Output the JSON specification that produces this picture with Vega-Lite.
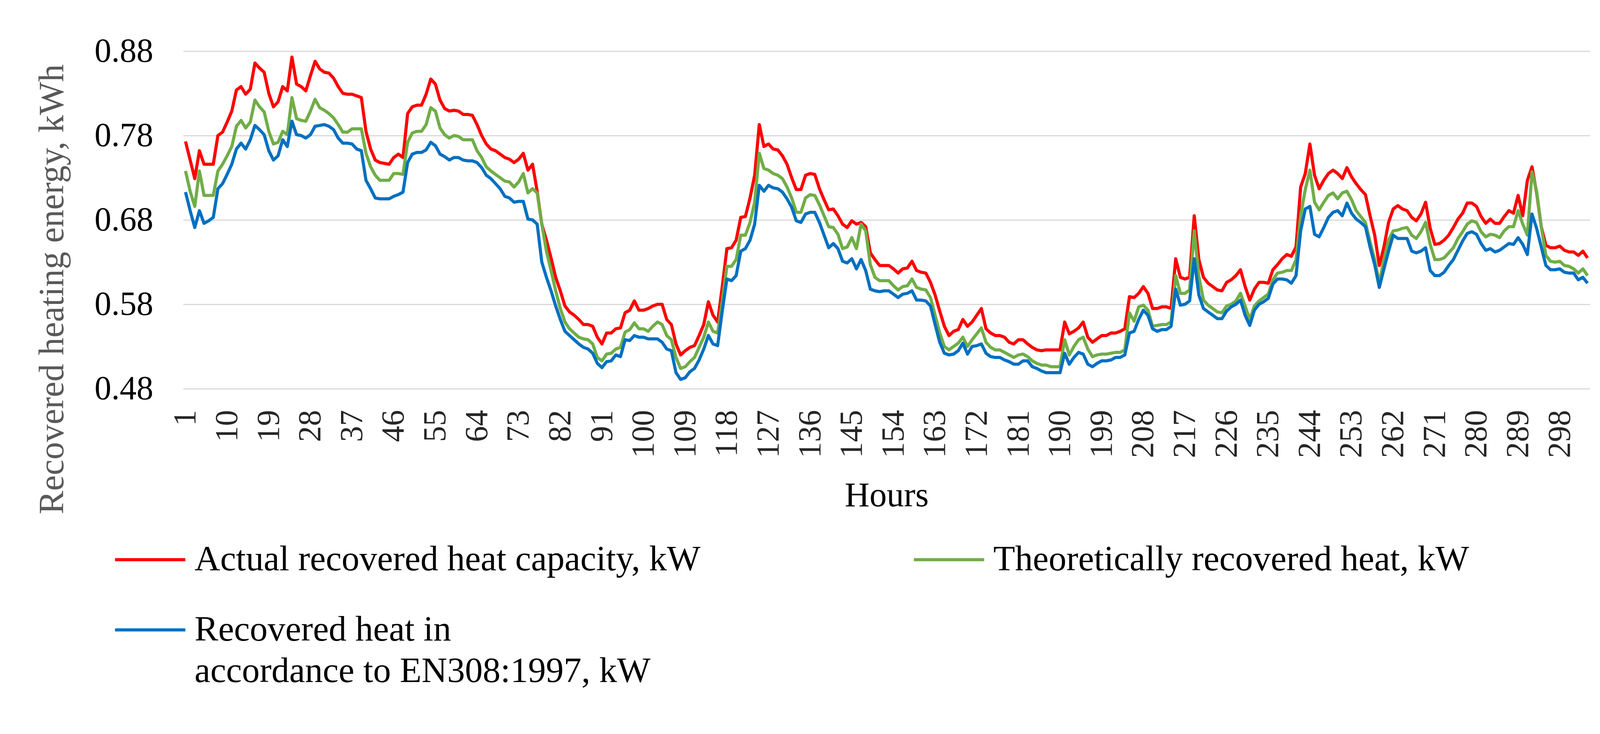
{
  "$schema": "https://vega.github.io/schema/vega-lite/v6.json",
  "width": 3601,
  "height": 864,
  "autosize": "none",
  "padding": {"left": 469, "top": 131, "right": 142, "bottom": 884},
  "background": "white",
  "config": {
    "view": {"stroke": null},
    "font": "Liberation Serif",
    "style": {"guide-label": {"lineHeight": 106}}
  },
  "data": {
    "values": [
      {"h":1,"s1":0.773,"s2":0.738,"s3":0.713},{"h":2,"s1":0.751,"s2":0.714,"s3":0.691},{"h":3,"s1":0.729,"s2":0.696,"s3":0.671},{"h":4,"s1":0.762,"s2":0.738,"s3":0.691},
      {"h":5,"s1":0.746,"s2":0.709,"s3":0.676},{"h":6,"s1":0.746,"s2":0.709,"s3":0.679},{"h":7,"s1":0.746,"s2":0.709,"s3":0.683},{"h":8,"s1":0.780,"s2":0.738,"s3":0.717},
      {"h":9,"s1":0.784,"s2":0.746,"s3":0.723},{"h":10,"s1":0.796,"s2":0.756,"s3":0.734},{"h":11,"s1":0.809,"s2":0.767,"s3":0.746},{"h":12,"s1":0.834,"s2":0.791,"s3":0.764},
      {"h":13,"s1":0.838,"s2":0.798,"s3":0.771},{"h":14,"s1":0.829,"s2":0.789,"s3":0.764},{"h":15,"s1":0.835,"s2":0.796,"s3":0.775},{"h":16,"s1":0.866,"s2":0.822,"s3":0.792},
      {"h":17,"s1":0.860,"s2":0.814,"s3":0.787},{"h":18,"s1":0.855,"s2":0.808,"s3":0.781},{"h":19,"s1":0.830,"s2":0.785,"s3":0.762},{"h":20,"s1":0.814,"s2":0.770,"s3":0.751},
      {"h":21,"s1":0.820,"s2":0.772,"s3":0.756},{"h":22,"s1":0.838,"s2":0.785,"s3":0.775},{"h":23,"s1":0.833,"s2":0.781,"s3":0.767},{"h":24,"s1":0.873,"s2":0.825,"s3":0.797},
      {"h":25,"s1":0.841,"s2":0.800,"s3":0.781},{"h":26,"s1":0.838,"s2":0.798,"s3":0.780},{"h":27,"s1":0.833,"s2":0.797,"s3":0.777},{"h":28,"s1":0.851,"s2":0.809,"s3":0.781},
      {"h":29,"s1":0.868,"s2":0.823,"s3":0.791},{"h":30,"s1":0.859,"s2":0.813,"s3":0.792},{"h":31,"s1":0.855,"s2":0.810,"s3":0.793},{"h":32,"s1":0.854,"s2":0.806,"s3":0.791},
      {"h":33,"s1":0.848,"s2":0.801,"s3":0.787},{"h":34,"s1":0.838,"s2":0.793,"s3":0.777},{"h":35,"s1":0.830,"s2":0.784,"s3":0.771},{"h":36,"s1":0.829,"s2":0.784,"s3":0.771},
      {"h":37,"s1":0.829,"s2":0.788,"s3":0.770},{"h":38,"s1":0.827,"s2":0.788,"s3":0.764},{"h":39,"s1":0.825,"s2":0.788,"s3":0.762},{"h":40,"s1":0.785,"s2":0.759,"s3":0.727},
      {"h":41,"s1":0.764,"s2":0.743,"s3":0.717},{"h":42,"s1":0.751,"s2":0.733,"s3":0.706},{"h":43,"s1":0.748,"s2":0.727,"s3":0.705},{"h":44,"s1":0.747,"s2":0.727,"s3":0.705},
      {"h":45,"s1":0.746,"s2":0.727,"s3":0.705},{"h":46,"s1":0.754,"s2":0.735,"s3":0.708},{"h":47,"s1":0.758,"s2":0.735,"s3":0.710},{"h":48,"s1":0.754,"s2":0.734,"s3":0.713},
      {"h":49,"s1":0.806,"s2":0.772,"s3":0.748},{"h":50,"s1":0.814,"s2":0.783,"s3":0.758},{"h":51,"s1":0.816,"s2":0.785,"s3":0.760},{"h":52,"s1":0.816,"s2":0.785,"s3":0.760},
      {"h":53,"s1":0.829,"s2":0.793,"s3":0.763},{"h":54,"s1":0.847,"s2":0.813,"s3":0.772},{"h":55,"s1":0.841,"s2":0.809,"s3":0.768},{"h":56,"s1":0.822,"s2":0.789,"s3":0.758},
      {"h":57,"s1":0.812,"s2":0.781,"s3":0.755},{"h":58,"s1":0.809,"s2":0.777,"s3":0.751},{"h":59,"s1":0.810,"s2":0.780,"s3":0.754},{"h":60,"s1":0.809,"s2":0.779,"s3":0.754},
      {"h":61,"s1":0.805,"s2":0.775,"s3":0.751},{"h":62,"s1":0.805,"s2":0.775,"s3":0.750},{"h":63,"s1":0.804,"s2":0.775,"s3":0.750},{"h":64,"s1":0.793,"s2":0.762,"s3":0.748},
      {"h":65,"s1":0.780,"s2":0.754,"s3":0.742},{"h":66,"s1":0.770,"s2":0.743,"s3":0.733},{"h":67,"s1":0.764,"s2":0.738,"s3":0.729},{"h":68,"s1":0.762,"s2":0.734,"s3":0.723},
      {"h":69,"s1":0.758,"s2":0.730,"s3":0.717},{"h":70,"s1":0.754,"s2":0.726,"s3":0.708},{"h":71,"s1":0.752,"s2":0.725,"s3":0.706},{"h":72,"s1":0.748,"s2":0.719,"s3":0.701},
      {"h":73,"s1":0.752,"s2":0.725,"s3":0.702},{"h":74,"s1":0.759,"s2":0.735,"s3":0.702},{"h":75,"s1":0.739,"s2":0.712,"s3":0.681},{"h":76,"s1":0.746,"s2":0.717,"s3":0.680},
      {"h":77,"s1":0.714,"s2":0.712,"s3":0.675},{"h":78,"s1":0.675,"s2":0.675,"s3":0.630},{"h":79,"s1":0.656,"s2":0.643,"s3":0.612},{"h":80,"s1":0.635,"s2":0.620,"s3":0.596},
      {"h":81,"s1":0.612,"s2":0.596,"s3":0.578},{"h":82,"s1":0.596,"s2":0.575,"s3":0.562},{"h":83,"s1":0.578,"s2":0.559,"s3":0.548},{"h":84,"s1":0.571,"s2":0.551,"s3":0.543},
      {"h":85,"s1":0.567,"s2":0.546,"s3":0.538},{"h":86,"s1":0.562,"s2":0.541,"s3":0.533},{"h":87,"s1":0.556,"s2":0.539,"s3":0.529},{"h":88,"s1":0.556,"s2":0.538,"s3":0.527},
      {"h":89,"s1":0.554,"s2":0.533,"s3":0.522},{"h":90,"s1":0.541,"s2":0.517,"s3":0.510},{"h":91,"s1":0.533,"s2":0.513,"s3":0.505},{"h":92,"s1":0.546,"s2":0.521,"s3":0.512},
      {"h":93,"s1":0.546,"s2":0.522,"s3":0.513},{"h":94,"s1":0.551,"s2":0.527,"s3":0.520},{"h":95,"s1":0.552,"s2":0.529,"s3":0.518},{"h":96,"s1":0.570,"s2":0.547,"s3":0.538},
      {"h":97,"s1":0.573,"s2":0.550,"s3":0.537},{"h":98,"s1":0.584,"s2":0.558,"s3":0.543},{"h":99,"s1":0.573,"s2":0.551,"s3":0.541},{"h":100,"s1":0.573,"s2":0.551,"s3":0.541},
      {"h":101,"s1":0.575,"s2":0.548,"s3":0.539},{"h":102,"s1":0.578,"s2":0.554,"s3":0.539},{"h":103,"s1":0.580,"s2":0.559,"s3":0.539},{"h":104,"s1":0.580,"s2":0.556,"s3":0.535},
      {"h":105,"s1":0.562,"s2":0.543,"s3":0.527},{"h":106,"s1":0.556,"s2":0.538,"s3":0.525},{"h":107,"s1":0.533,"s2":0.517,"s3":0.499},{"h":108,"s1":0.520,"s2":0.504,"s3":0.491},
      {"h":109,"s1":0.525,"s2":0.506,"s3":0.493},{"h":110,"s1":0.529,"s2":0.512,"s3":0.500},{"h":111,"s1":0.531,"s2":0.517,"s3":0.504},{"h":112,"s1":0.543,"s2":0.529,"s3":0.514},
      {"h":113,"s1":0.556,"s2":0.541,"s3":0.527},{"h":114,"s1":0.583,"s2":0.559,"s3":0.543},{"h":115,"s1":0.567,"s2":0.548,"s3":0.533},{"h":116,"s1":0.559,"s2":0.546,"s3":0.531},
      {"h":117,"s1":0.601,"s2":0.583,"s3":0.572},{"h":118,"s1":0.646,"s2":0.625,"s3":0.610},{"h":119,"s1":0.647,"s2":0.625,"s3":0.608},{"h":120,"s1":0.656,"s2":0.633,"s3":0.614},
      {"h":121,"s1":0.683,"s2":0.662,"s3":0.643},{"h":122,"s1":0.684,"s2":0.662,"s3":0.646},{"h":123,"s1":0.706,"s2":0.677,"s3":0.656},{"h":124,"s1":0.733,"s2":0.701,"s3":0.675},
      {"h":125,"s1":0.793,"s2":0.759,"s3":0.721},{"h":126,"s1":0.767,"s2":0.741,"s3":0.714},{"h":127,"s1":0.770,"s2":0.739,"s3":0.721},{"h":128,"s1":0.764,"s2":0.735,"s3":0.718},
      {"h":129,"s1":0.763,"s2":0.733,"s3":0.717},{"h":130,"s1":0.756,"s2":0.729,"s3":0.713},{"h":131,"s1":0.746,"s2":0.719,"s3":0.705},{"h":132,"s1":0.730,"s2":0.706,"s3":0.695},
      {"h":133,"s1":0.716,"s2":0.689,"s3":0.679},{"h":134,"s1":0.716,"s2":0.689,"s3":0.677},{"h":135,"s1":0.733,"s2":0.706,"s3":0.687},{"h":136,"s1":0.735,"s2":0.710,"s3":0.689},
      {"h":137,"s1":0.734,"s2":0.709,"s3":0.689},{"h":138,"s1":0.717,"s2":0.698,"s3":0.677},{"h":139,"s1":0.704,"s2":0.685,"s3":0.662},{"h":140,"s1":0.692,"s2":0.672,"s3":0.647},
      {"h":141,"s1":0.693,"s2":0.671,"s3":0.652},{"h":142,"s1":0.685,"s2":0.663,"s3":0.646},{"h":143,"s1":0.675,"s2":0.646,"s3":0.631},{"h":144,"s1":0.671,"s2":0.648,"s3":0.629},
      {"h":145,"s1":0.679,"s2":0.659,"s3":0.634},{"h":146,"s1":0.675,"s2":0.646,"s3":0.622},{"h":147,"s1":0.677,"s2":0.675,"s3":0.633},{"h":148,"s1":0.672,"s2":0.667,"s3":0.620},
      {"h":149,"s1":0.641,"s2":0.627,"s3":0.598},{"h":150,"s1":0.633,"s2":0.612,"s3":0.596},{"h":151,"s1":0.626,"s2":0.608,"s3":0.595},{"h":152,"s1":0.626,"s2":0.608,"s3":0.596},
      {"h":153,"s1":0.626,"s2":0.608,"s3":0.596},{"h":154,"s1":0.622,"s2":0.602,"s3":0.592},{"h":155,"s1":0.617,"s2":0.597,"s3":0.588},{"h":156,"s1":0.622,"s2":0.601,"s3":0.592},
      {"h":157,"s1":0.623,"s2":0.602,"s3":0.593},{"h":158,"s1":0.631,"s2":0.610,"s3":0.596},{"h":159,"s1":0.620,"s2":0.600,"s3":0.585},{"h":160,"s1":0.618,"s2":0.598,"s3":0.585},
      {"h":161,"s1":0.617,"s2":0.597,"s3":0.584},{"h":162,"s1":0.606,"s2":0.588,"s3":0.578},{"h":163,"s1":0.591,"s2":0.567,"s3":0.556},{"h":164,"s1":0.572,"s2":0.546,"s3":0.535},
      {"h":165,"s1":0.554,"s2":0.530,"s3":0.522},{"h":166,"s1":0.543,"s2":0.526,"s3":0.520},{"h":167,"s1":0.548,"s2":0.530,"s3":0.521},{"h":168,"s1":0.550,"s2":0.534,"s3":0.525},
      {"h":169,"s1":0.562,"s2":0.541,"s3":0.534},{"h":170,"s1":0.554,"s2":0.530,"s3":0.521},{"h":171,"s1":0.559,"s2":0.538,"s3":0.530},{"h":172,"s1":0.567,"s2":0.545,"s3":0.531},
      {"h":173,"s1":0.575,"s2":0.552,"s3":0.533},{"h":174,"s1":0.551,"s2":0.535,"s3":0.522},{"h":175,"s1":0.546,"s2":0.529,"s3":0.518},{"h":176,"s1":0.543,"s2":0.526,"s3":0.517},
      {"h":177,"s1":0.543,"s2":0.526,"s3":0.517},{"h":178,"s1":0.541,"s2":0.523,"s3":0.514},{"h":179,"s1":0.535,"s2":0.520,"s3":0.512},{"h":180,"s1":0.533,"s2":0.517,"s3":0.509},
      {"h":181,"s1":0.538,"s2":0.520,"s3":0.509},{"h":182,"s1":0.538,"s2":0.521,"s3":0.513},{"h":183,"s1":0.533,"s2":0.518,"s3":0.513},{"h":184,"s1":0.529,"s2":0.513,"s3":0.506},
      {"h":185,"s1":0.526,"s2":0.510,"s3":0.504},{"h":186,"s1":0.525,"s2":0.508,"s3":0.501},{"h":187,"s1":0.526,"s2":0.508,"s3":0.499},{"h":188,"s1":0.526,"s2":0.506,"s3":0.499},
      {"h":189,"s1":0.526,"s2":0.506,"s3":0.499},{"h":190,"s1":0.526,"s2":0.506,"s3":0.499},{"h":191,"s1":0.559,"s2":0.538,"s3":0.522},{"h":192,"s1":0.545,"s2":0.520,"s3":0.509},
      {"h":193,"s1":0.548,"s2":0.530,"s3":0.517},{"h":194,"s1":0.552,"s2":0.538,"s3":0.523},{"h":195,"s1":0.559,"s2":0.541,"s3":0.521},{"h":196,"s1":0.541,"s2":0.527,"s3":0.509},
      {"h":197,"s1":0.535,"s2":0.518,"s3":0.506},{"h":198,"s1":0.539,"s2":0.520,"s3":0.510},{"h":199,"s1":0.543,"s2":0.521,"s3":0.513},{"h":200,"s1":0.543,"s2":0.521,"s3":0.513},
      {"h":201,"s1":0.546,"s2":0.522,"s3":0.514},{"h":202,"s1":0.546,"s2":0.523,"s3":0.517},{"h":203,"s1":0.548,"s2":0.523,"s3":0.517},{"h":204,"s1":0.551,"s2":0.526,"s3":0.520},
      {"h":205,"s1":0.589,"s2":0.570,"s3":0.546},{"h":206,"s1":0.588,"s2":0.560,"s3":0.548},{"h":207,"s1":0.593,"s2":0.577,"s3":0.562},{"h":208,"s1":0.601,"s2":0.579,"s3":0.573},
      {"h":209,"s1":0.593,"s2":0.573,"s3":0.567},{"h":210,"s1":0.575,"s2":0.554,"s3":0.551},{"h":211,"s1":0.575,"s2":0.555,"s3":0.548},{"h":212,"s1":0.577,"s2":0.556,"s3":0.550},
      {"h":213,"s1":0.577,"s2":0.556,"s3":0.550},{"h":214,"s1":0.575,"s2":0.559,"s3":0.554},{"h":215,"s1":0.634,"s2":0.614,"s3":0.598},{"h":216,"s1":0.612,"s2":0.593,"s3":0.579},
      {"h":217,"s1":0.610,"s2":0.593,"s3":0.580},{"h":218,"s1":0.612,"s2":0.597,"s3":0.584},{"h":219,"s1":0.685,"s2":0.667,"s3":0.634},{"h":220,"s1":0.633,"s2":0.613,"s3":0.591},
      {"h":221,"s1":0.612,"s2":0.585,"s3":0.575},{"h":222,"s1":0.605,"s2":0.579,"s3":0.571},{"h":223,"s1":0.601,"s2":0.575,"s3":0.567},{"h":224,"s1":0.597,"s2":0.571,"s3":0.563},
      {"h":225,"s1":0.596,"s2":0.570,"s3":0.563},{"h":226,"s1":0.606,"s2":0.578,"s3":0.572},{"h":227,"s1":0.609,"s2":0.580,"s3":0.577},{"h":228,"s1":0.614,"s2":0.584,"s3":0.580},
      {"h":229,"s1":0.621,"s2":0.593,"s3":0.585},{"h":230,"s1":0.601,"s2":0.578,"s3":0.567},{"h":231,"s1":0.585,"s2":0.562,"s3":0.555},{"h":232,"s1":0.598,"s2":0.578,"s3":0.573},
      {"h":233,"s1":0.606,"s2":0.584,"s3":0.580},{"h":234,"s1":0.606,"s2":0.588,"s3":0.583},{"h":235,"s1":0.605,"s2":0.592,"s3":0.587},{"h":236,"s1":0.621,"s2":0.609,"s3":0.604},
      {"h":237,"s1":0.627,"s2":0.617,"s3":0.610},{"h":238,"s1":0.634,"s2":0.618,"s3":0.610},{"h":239,"s1":0.639,"s2":0.620,"s3":0.609},{"h":240,"s1":0.637,"s2":0.620,"s3":0.605},
      {"h":241,"s1":0.648,"s2":0.633,"s3":0.614},{"h":242,"s1":0.719,"s2":0.685,"s3":0.667},{"h":243,"s1":0.735,"s2":0.716,"s3":0.693},{"h":244,"s1":0.770,"s2":0.739,"s3":0.696},
      {"h":245,"s1":0.733,"s2":0.701,"s3":0.663},{"h":246,"s1":0.717,"s2":0.692,"s3":0.660},{"h":247,"s1":0.727,"s2":0.701,"s3":0.671},{"h":248,"s1":0.735,"s2":0.709,"s3":0.683},
      {"h":249,"s1":0.739,"s2":0.712,"s3":0.689},{"h":250,"s1":0.735,"s2":0.705,"s3":0.691},{"h":251,"s1":0.729,"s2":0.712,"s3":0.685},{"h":252,"s1":0.742,"s2":0.714,"s3":0.700},
      {"h":253,"s1":0.731,"s2":0.704,"s3":0.688},{"h":254,"s1":0.723,"s2":0.691,"s3":0.681},{"h":255,"s1":0.716,"s2":0.684,"s3":0.677},{"h":256,"s1":0.710,"s2":0.677,"s3":0.672},
      {"h":257,"s1":0.685,"s2":0.654,"s3":0.648},{"h":258,"s1":0.662,"s2":0.633,"s3":0.627},{"h":259,"s1":0.626,"s2":0.605,"s3":0.600},{"h":260,"s1":0.648,"s2":0.633,"s3":0.622},
      {"h":261,"s1":0.677,"s2":0.656,"s3":0.643},{"h":262,"s1":0.693,"s2":0.667,"s3":0.662},{"h":263,"s1":0.697,"s2":0.668,"s3":0.658},{"h":264,"s1":0.693,"s2":0.670,"s3":0.658},
      {"h":265,"s1":0.691,"s2":0.671,"s3":0.658},{"h":266,"s1":0.683,"s2":0.662,"s3":0.643},{"h":267,"s1":0.679,"s2":0.658,"s3":0.641},{"h":268,"s1":0.687,"s2":0.666,"s3":0.643},
      {"h":269,"s1":0.701,"s2":0.677,"s3":0.647},{"h":270,"s1":0.670,"s2":0.651,"s3":0.620},{"h":271,"s1":0.651,"s2":0.633,"s3":0.614},{"h":272,"s1":0.652,"s2":0.633,"s3":0.614},
      {"h":273,"s1":0.656,"s2":0.635,"s3":0.618},{"h":274,"s1":0.662,"s2":0.641,"s3":0.626},{"h":275,"s1":0.671,"s2":0.647,"s3":0.633},{"h":276,"s1":0.681,"s2":0.658,"s3":0.644},
      {"h":277,"s1":0.688,"s2":0.666,"s3":0.655},{"h":278,"s1":0.700,"s2":0.675,"s3":0.664},{"h":279,"s1":0.700,"s2":0.679,"s3":0.666},{"h":280,"s1":0.696,"s2":0.677,"s3":0.663},
      {"h":281,"s1":0.684,"s2":0.666,"s3":0.652},{"h":282,"s1":0.676,"s2":0.660,"s3":0.644},{"h":283,"s1":0.681,"s2":0.663,"s3":0.646},{"h":284,"s1":0.676,"s2":0.662,"s3":0.642},
      {"h":285,"s1":0.676,"s2":0.659,"s3":0.644},{"h":286,"s1":0.684,"s2":0.667,"s3":0.648},{"h":287,"s1":0.691,"s2":0.672,"s3":0.652},{"h":288,"s1":0.688,"s2":0.672,"s3":0.651},
      {"h":289,"s1":0.709,"s2":0.691,"s3":0.659},{"h":290,"s1":0.685,"s2":0.675,"s3":0.651},{"h":291,"s1":0.727,"s2":0.662,"s3":0.639},{"h":292,"s1":0.743,"s2":0.737,"s3":0.687},
      {"h":293,"s1":0.712,"s2":0.714,"s3":0.670},{"h":294,"s1":0.672,"s2":0.672,"s3":0.648},{"h":295,"s1":0.650,"s2":0.638,"s3":0.626},{"h":296,"s1":0.647,"s2":0.631,"s3":0.621},
      {"h":297,"s1":0.647,"s2":0.630,"s3":0.621},{"h":298,"s1":0.649,"s2":0.631,"s3":0.622},{"h":299,"s1":0.644,"s2":0.626,"s3":0.618},{"h":300,"s1":0.642,"s2":0.625,"s3":0.617},
      {"h":301,"s1":0.642,"s2":0.622,"s3":0.617},{"h":302,"s1":0.638,"s2":0.617,"s3":0.609},{"h":303,"s1":0.643,"s2":0.622,"s3":0.612},{"h":304,"s1":0.635,"s2":0.614,"s3":0.605}
    ]
  },
  "transform": [
    {"fold": ["s1", "s2", "s3"], "as": ["series", "kwh"]}
  ],
  "mark": {"type": "line", "strokeWidth": 8, "strokeJoin": "round", "strokeCap": "butt"},
  "encoding": {
    "x": {
      "field": "h",
      "type": "ordinal",
      "scale": {"paddingOuter": 0.5},
      "axis": {
        "values": [1, 10, 19, 28, 37, 46, 55, 64, 73, 82, 91, 100, 109, 118, 127, 136, 145, 154, 163, 172, 181, 190, 199, 208, 217, 226, 235, 244, 253, 262, 271, 280, 289, 298],
        "labelAngle": 270,
        "labelFont": "Liberation Serif",
        "labelFontSize": 82,
        "labelColor": "#262626",
        "labelPadding": 54,
        "ticks": false,
        "tickSize": 0,
        "domain": false,
        "grid": false,
        "title": "Hours",
        "titleFont": "Liberation Serif",
        "titleFontSize": 88,
        "titleFontWeight": "normal",
        "titleColor": "#000000",
        "titleBaseline": "alphabetic",
        "titleY": 300
      }
    },
    "y": {
      "field": "kwh",
      "type": "quantitative",
      "scale": {"domain": [0.48, 0.88], "nice": false, "zero": false},
      "axis": {
        "values": [0.48, 0.58, 0.68, 0.78, 0.88],
        "format": ".2f",
        "labelFont": "Liberation Serif",
        "labelFontSize": 86,
        "labelColor": "#000000",
        "labelPadding": 77,
        "ticks": false,
        "tickSize": 0,
        "domain": false,
        "grid": true,
        "gridColor": "#d9d9d9",
        "gridWidth": 3,
        "title": "Recovered heating energy, kWh",
        "titleFont": "Liberation Serif",
        "titleFontSize": 90,
        "titleFontWeight": "normal",
        "titleColor": "#595959",
        "titleAngle": 270,
        "titleAlign": "center",
        "titleBaseline": "bottom",
        "titleX": -289,
        "titleY": 609
      }
    },
    "color": {
      "field": "series",
      "type": "nominal",
      "scale": {"domain": ["s1", "s2", "s3"], "range": ["#ff0000", "#70ad47", "#0070c0"]},
      "legend": {
        "title": null,
        "orient": "none",
        "direction": "horizontal",
        "legendX": -130,
        "legendY": 1256,
        "columns": 2,
        "columnPadding": 529,
        "rowPadding": 88,
        "symbolType": "M-3,0H3",
        "symbolSize": 3600,
        "symbolStrokeWidth": 8,
        "labelFont": "Liberation Serif",
        "labelFontSize": 91,
        "labelColor": "#000000",
        "labelOffset": 68,
        "labelLimit": 3000,
        "labelExpr": "datum.value == 's1' ? 'Actual recovered heat capacity, kW' : datum.value == 's2' ? 'Theoretically recovered heat, kW' : ['Recovered heat in', 'accordance to EN308:1997, kW']"
      }
    }
  }
}
